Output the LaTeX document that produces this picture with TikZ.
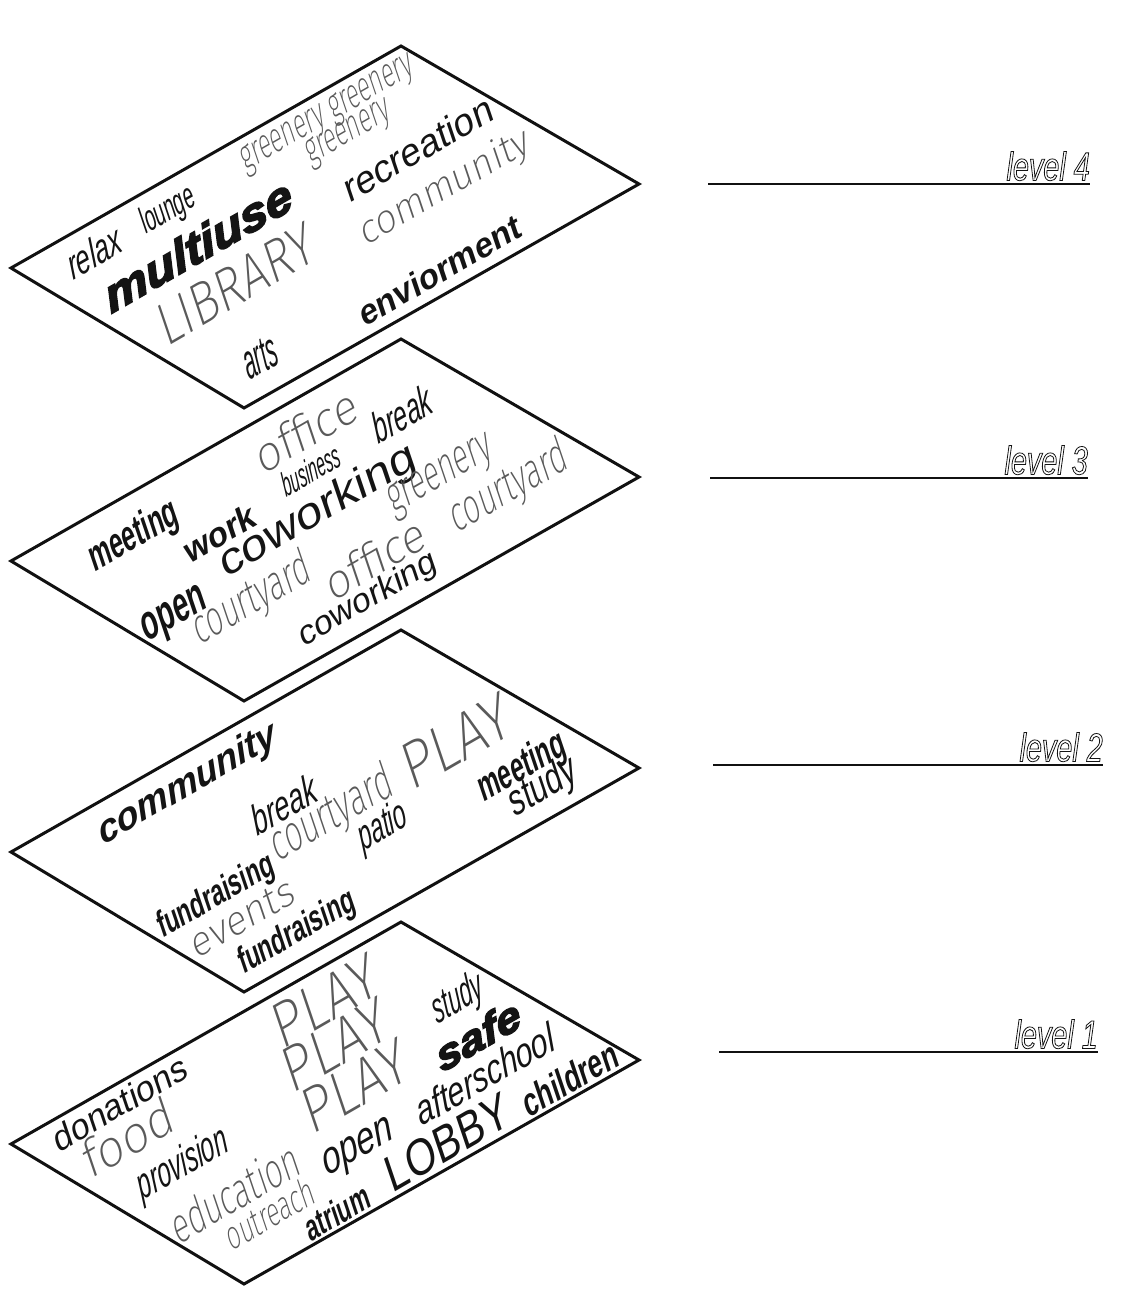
\documentclass[tikz,border=0pt]{standalone}
\usepackage{fontspec}
\setmainfont{Liberation Sans}
\IfFontExistsTF{Fira Sans ExtraLight}{\newcommand\thinname{Fira Sans ExtraLight}}{%
  \IfFontExistsTF{Fira Sans Light}{\newcommand\thinname{Fira Sans Light}}{%
    \IfFontExistsTF{Lato Light}{\newcommand\thinname{Lato Light}}{%
      \IfFontExistsTF{Open Sans Light}{\newcommand\thinname{Open Sans Light}}{%
        \newcommand\thinname{Liberation Sans}}}}}
\definecolor{CloudInk}{HTML}{141414}
\definecolor{CloudThin}{HTML}{5A5A5A}
\definecolor{CloudRule}{HTML}{111111}
\newcommand\plainf[2]{\fontspec{Liberation Sans}[FakeStretch=#1]\fontsize{#2}{#2}\selectfont}
\newcommand\thinf[2]{\fontspec{\thinname}[FakeStretch=#1]\fontsize{#2}{#2}\selectfont}
\newcommand\blackf[2]{\fontspec{Liberation Sans Bold Italic}[FakeStretch=#1,FakeBold=4]\fontsize{#2}{#2}\selectfont}
\newcommand\hollow[1]{\special{pdf:literal direct 1 Tr 0.8 w}#1\special{pdf:literal direct 0 Tr}}
\tikzset{
  cloud/word/.style={rotate=30, xslant=0.2, inner sep=0pt, text=CloudInk},
  cloud/thin/.style={cloud/word, text=CloudThin},
  cloud/plate/.style={draw=CloudRule, line width=3pt, line join=miter},
  cloud/levelline/.style={draw=CloudRule, line width=1.6pt},
  cloud/levellabel/.style={inner xsep=0pt, inner ysep=3pt, text=CloudInk,
    font=\plainf{0.72}{40}\itshape}
}

\begin{document}
\begin{tikzpicture}[x=1pt,y=-1pt]
  \useasboundingbox (0,0) rectangle (1125,1305);
  % the four floor plates
  \foreach \dy in {0,293,584,876}
    \draw[cloud/plate] (401,46+\dy) -- ++(238,138) -- ++(-395,224)
      -- ++(-233,-140) -- cycle;
  % level 4
  \node[cloud/word, font=\plainf{0.68}{40}\itshape] (relax4) at (94,252) {relax};
  \node[cloud/word, font=\plainf{0.55}{36}] (lounge4) at (168,211) {lounge};
  \node[cloud/word, font=\blackf{1.15}{45}] (multiuse4) at (198,245) {multiuse};
  \node[cloud/thin, font=\thinf{0.6}{41}] (greeneryA4) at (328,115) {greenery greenery};
  \node[cloud/thin, font=\thinf{0.6}{41}] (greeneryB4) at (349,134) {greenery};
  \node[cloud/word, font=\plainf{1}{38}] (recreation4) at (418,148) {recreation};
  \node[cloud/thin, font=\thinf{1}{39}] (community4) at (445,188) {community};
  \node[cloud/thin, font=\thinf{0.85}{58}] (library4) at (236,284) {LIBRARY};
  \node[cloud/word, font=\plainf{1}{34}\bfseries] (enviorment4) at (440,270) {enviorment};
  \node[cloud/word, font=\plainf{0.45}{48}\itshape] (arts4) at (260,357) {arts};
  % level 3
  \node[cloud/thin, font=\thinf{1}{47}] (officeA3) at (306,430) {office};
  \node[cloud/word, font=\plainf{0.62}{42}\itshape] (break3) at (402,414) {break};
  \node[cloud/word, font=\plainf{0.5}{33}\itshape] (business3) at (311,470) {business};
  \node[cloud/word, font=\plainf{1.15}{43}] (coworkingA3) at (318,512) {coworking};
  \node[cloud/word, font=\plainf{0.62}{42}\bfseries] (meeting3) at (134,537) {meeting};
  \node[cloud/word, font=\plainf{1}{34}\bfseries] (work3) at (220,533) {work};
  \node[cloud/word, font=\plainf{0.62}{48}\bfseries] (open3) at (175,617) {open};
  \node[cloud/thin, font=\thinf{0.65}{48}] (courtyardA3) at (252,600) {courtyard};
  \node[cloud/thin, font=\thinf{1}{46}] (officeB3) at (375,558) {office};
  \node[cloud/thin, font=\thinf{0.62}{49}] (greenery3) at (441,477) {greenery};
  \node[cloud/thin, font=\thinf{0.65}{48}] (courtyardB3) at (509,488) {courtyard};
  \node[cloud/word, font=\plainf{1.05}{33}] (coworkingB3) at (368,600) {coworking};
  % level 2
  \node[cloud/word, font=\plainf{1}{38}\bfseries\itshape] (community2) at (188,785) {community};
  \node[cloud/word, font=\plainf{0.7}{41}\itshape] (break2) at (284,804) {break};
  \node[cloud/thin, font=\thinf{0.65}{50}] (courtyard2) at (332,815) {courtyard};
  \node[cloud/thin, font=\thinf{0.9}{64}] (play2) at (456,741) {PLAY};
  \node[cloud/word, font=\plainf{0.6}{41}\itshape] (patio2) at (383,828) {patio};
  \node[cloud/word, font=\plainf{0.62}{41}\bfseries] (meeting2) at (522,768) {meeting};
  \node[cloud/word, font=\plainf{0.72}{43}] (study2) at (543,788) {study};
  \node[cloud/word, font=\plainf{0.67}{36}\bfseries] (fundraisingA2) at (216,897) {fundraising};
  \node[cloud/thin, font=\thinf{1}{40}] (events2) at (243,918) {events};
  \node[cloud/word, font=\plainf{0.67}{36}\bfseries] (fundraisingB2) at (297,933) {fundraising};
  % level 1
  \foreach \n/\x/\y in {A/325/1001,B/335/1045,C/355/1086}
    \node[cloud/thin, font=\thinf{0.9}{62}] (play\n1) at (\x,\y) {PLAY};
  \node[cloud/word, font=\plainf{0.55}{42}\itshape] (study1) at (458,1000) {study};
  \node[cloud/word, font=\blackf{1.15}{41}] (safe1) at (478,1035) {safe};
  \node[cloud/word, font=\plainf{0.8}{40}\itshape] (afterschool1) at (485,1074) {afterschool};
  \node[cloud/word, font=\plainf{0.7}{39}\bfseries] (children1) at (570,1078) {children};
  \node[cloud/word, font=\plainf{0.85}{49}] (lobby1) at (447,1142) {LOBBY};
  \node[cloud/word, font=\plainf{0.8}{44}\itshape] (open1) at (359,1150) {open};
  \node[cloud/word, font=\plainf{0.65}{36}\bfseries] (atrium1) at (337,1212) {atrium};
  \node[cloud/thin, font=\thinf{0.68}{48}] (education1) at (235,1192) {education};
  \node[cloud/thin, font=\thinf{0.65}{39}] (outreach1) at (270,1213) {outreach};
  \node[cloud/word, font=\plainf{0.6}{42}\itshape] (provision1) at (183,1165) {provision};
  \node[cloud/thin, font=\thinf{1}{50}] (food1) at (128,1137) {food};
  \node[cloud/word, font=\plainf{1}{35}] (donations1) at (120,1103) {donations};
  % level labels
  \foreach \lv/\y/\xa/\xb in {4/184/708/1090,3/478/710/1088,2/765/713/1103,1/1052/719/1098}{
    \coordinate (start\lv) at (\xa,\y);
    \coordinate (end\lv) at (\xb,\y);
    \draw[cloud/levelline] (start\lv) -- (end\lv);
    \node[cloud/levellabel, anchor=south east] (level\lv) at (end\lv) {\hollow{level \lv}};
  }
\end{tikzpicture}
\end{document}
